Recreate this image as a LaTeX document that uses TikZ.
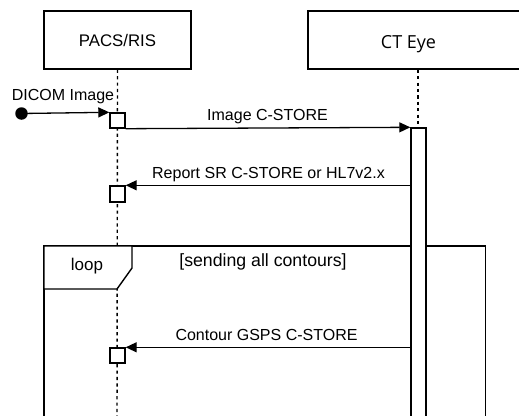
\documentclass[tikz,border=0pt]{standalone}
\usepackage{fontspec}
\setmainfont{Liberation Sans}
\newfontfamily\ctfont{Open Sans}
\usetikzlibrary{arrows.meta}
\begin{document}
\begin{tikzpicture}[x=1pt,y=-1pt,line width=1.4pt,
  lbl/.style={inner sep=0pt,anchor=base,font=\fontsize{16}{19}\selectfont},
  actor/.style={draw,fill=white,inner sep=0pt,text height=12pt,text depth=0pt,font=\fontsize{16.8}{19}\selectfont},
  act/.style={draw,fill=white,inner sep=0pt,minimum width=15pt},
  msg/.style={-{Triangle[length=11pt,width=10pt]},line width=1.3pt},
  life/.style={dash pattern=on 3.2pt off 3.2pt,line width=1.4pt}]
\useasboundingbox (0,0) rectangle (519,415);
\clip (0,0) rectangle (519,415);
% actors
\node[actor,minimum width=147pt,minimum height=58pt] (pacs) at (117.5,40) {PACS/RIS};
\node[actor,minimum width=220pt,minimum height=58pt] (ctbox) at (418,40) {};
\node[inner sep=0pt,anchor=base,font=\ctfont\fontsize{18}{21}\selectfont] (ctlabel) at (408.5,48) {CT Eye};
\coordinate (pend) at (117,430);
\coordinate (ctact) at (418,128);
% lifelines
\draw[life] (pacs.south) -- (pend);
\draw[life] (ctbox.south) -- (ctact);
% loop frame
\coordinate (lf1) at (44,246);
\coordinate (lf2) at (485.5,440);
\draw (lf1) rectangle (lf2);
\draw[fill=white] (44,246) -- (132,246) -- (132,268) -- (117,289) -- (44,289) -- cycle;
\node[lbl,font=\fontsize{17}{20}\selectfont] (looplbl) at (87,270) {loop};
\node[lbl,font=\fontsize{17.7}{20}\selectfont] (cond) at (263,266) {[sending all contours]};
% activations
\node[act,minimum height=300pt] (act2) at (418.5,278) {};
\node[act,minimum height=15pt] (a1) at (117.5,120.5) {};
\node[act,minimum height=16pt] (a2) at (117.5,194) {};
\node[act,minimum height=15pt] (a3) at (117.5,355.5) {};
% found message
\node[circle,fill=black,inner sep=0pt,minimum size=12.5pt] (dot) at (21.5,113.5) {};
\node[lbl] (dicom) at (63,100) {DICOM Image};
\draw[msg] (dot.center) -- (a1.north west);
% messages
\draw[msg] (a1.south east) -- (act2.north west);
\node[lbl] (m1) at (267.5,120.5) {Image C-STORE};
\draw[msg] (act2.west |- a2.north east) -- (a2.north east);
\node[lbl] (m2) at (268.5,178) {Report SR C-STORE or HL7v2.x};
\draw[msg] (act2.west |- a3.north east) -- (a3.north east);
\node[lbl] (m3) at (266.5,340) {Contour GSPS C-STORE};
\end{tikzpicture}
\end{document}
